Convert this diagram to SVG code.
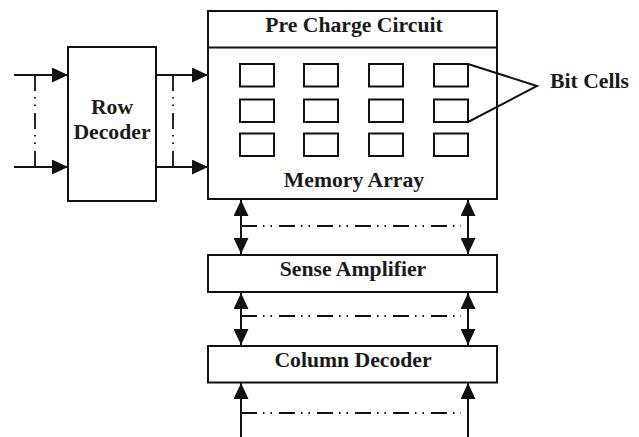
<svg xmlns="http://www.w3.org/2000/svg" width="639" height="437" viewBox="0 0 639 437">
  <style>
    .box { fill: #ffffff; stroke: #111111; stroke-width: 2; }
    .cell { fill: #ffffff; stroke: #111111; stroke-width: 2; }
    .wire { fill: none; stroke: #111111; stroke-width: 2; }
    .bus { fill: none; stroke: #111111; stroke-width: 1.8; stroke-dasharray: 16 6 1.5 6 1.5 7; }
    .label { font-family: "Liberation Serif", "Times New Roman", serif; font-weight: bold; font-size: 21.7px; fill: #1a1a1a; text-anchor: middle; }
  </style>
  <defs>
    <marker id="arrow" viewBox="0 0 16 15" refX="16" refY="7.5" markerWidth="16" markerHeight="15" markerUnits="userSpaceOnUse" orient="auto-start-reverse">
      <path d="M0,0 L16,7.5 L0,15 Z" fill="#111111"/>
    </marker>
  </defs>

  <!-- Row decoder -->
  <g id="row-decoder">
    <rect class="box" x="68" y="47" width="88" height="154"/>
    <text class="label" x="112" y="114">Row</text>
    <text class="label" x="112" y="139">Decoder</text>
  </g>

  <!-- Memory array with pre-charge strip on top -->
  <g id="memory-array">
    <rect class="box" x="208" y="11" width="289" height="188"/>
    <line class="wire" x1="208" y1="47.5" x2="497" y2="47.5"/>
    <text class="label" x="354" y="32">Pre Charge Circuit</text>
    <text class="label" x="354" y="187">Memory Array</text>
  </g>

  <!-- Bit cell grid -->
  <g id="bit-cells">
    <rect class="cell" x="240" y="64" width="34" height="22.5"/>
    <rect class="cell" x="304" y="64" width="34" height="22.5"/>
    <rect class="cell" x="369" y="64" width="34" height="22.5"/>
    <rect class="cell" x="434" y="64" width="34" height="22.5"/>
    <rect class="cell" x="240" y="99.5" width="34" height="22.5"/>
    <rect class="cell" x="304" y="99.5" width="34" height="22.5"/>
    <rect class="cell" x="369" y="99.5" width="34" height="22.5"/>
    <rect class="cell" x="434" y="99.5" width="34" height="22.5"/>
    <rect class="cell" x="240" y="133.5" width="34" height="22.5"/>
    <rect class="cell" x="304" y="133.5" width="34" height="22.5"/>
    <rect class="cell" x="369" y="133.5" width="34" height="22.5"/>
    <rect class="cell" x="434" y="133.5" width="34" height="22.5"/>
  </g>

  <g id="bit-cells-label">
    <polyline class="wire" points="468,64 537,86 468,122"/>
    <text class="label" x="550" y="88" style="text-anchor:start">Bit Cells</text>
  </g>

  <!-- Sense amplifier -->
  <g id="sense-amplifier">
    <rect class="box" x="208" y="255" width="289" height="37"/>
    <text class="label" x="353" y="276">Sense Amplifier</text>
  </g>

  <!-- Column decoder -->
  <g id="column-decoder">
    <rect class="box" x="208" y="346" width="289" height="36.5"/>
    <text class="label" x="353" y="367">Column Decoder</text>
  </g>

  <!-- Connectors -->
  <g id="connectors">
    <!-- address inputs to row decoder -->
    <line class="wire" x1="14" y1="75" x2="68" y2="75" marker-end="url(#arrow)"/>
    <line class="wire" x1="14" y1="167" x2="68" y2="167" marker-end="url(#arrow)"/>
    <line class="bus" x1="35" y1="75" x2="35" y2="167"/>

    <!-- word lines to memory array -->
    <line class="wire" x1="156" y1="75" x2="208" y2="75" marker-end="url(#arrow)"/>
    <line class="wire" x1="156" y1="167" x2="208" y2="167" marker-end="url(#arrow)"/>
    <line class="bus" x1="173" y1="75" x2="173" y2="167"/>

    <!-- bit lines: memory array <-> sense amplifier -->
    <line class="wire" x1="241" y1="200" x2="241" y2="254" marker-start="url(#arrow)" marker-end="url(#arrow)"/>
    <line class="wire" x1="468" y1="200" x2="468" y2="254" marker-start="url(#arrow)" marker-end="url(#arrow)"/>
    <line class="bus" x1="241" y1="226" x2="461" y2="226"/>

    <!-- sense amplifier <-> column decoder -->
    <line class="wire" x1="241" y1="293" x2="241" y2="345" marker-start="url(#arrow)" marker-end="url(#arrow)"/>
    <line class="wire" x1="468" y1="293" x2="468" y2="345" marker-start="url(#arrow)" marker-end="url(#arrow)"/>
    <line class="bus" x1="241" y1="316" x2="461" y2="316"/>

    <!-- column address inputs -->
    <line class="wire" x1="241" y1="437" x2="241" y2="383" marker-end="url(#arrow)"/>
    <line class="wire" x1="468" y1="437" x2="468" y2="383" marker-end="url(#arrow)"/>
    <line class="bus" x1="241" y1="413" x2="461" y2="413"/>
  </g>
</svg>
